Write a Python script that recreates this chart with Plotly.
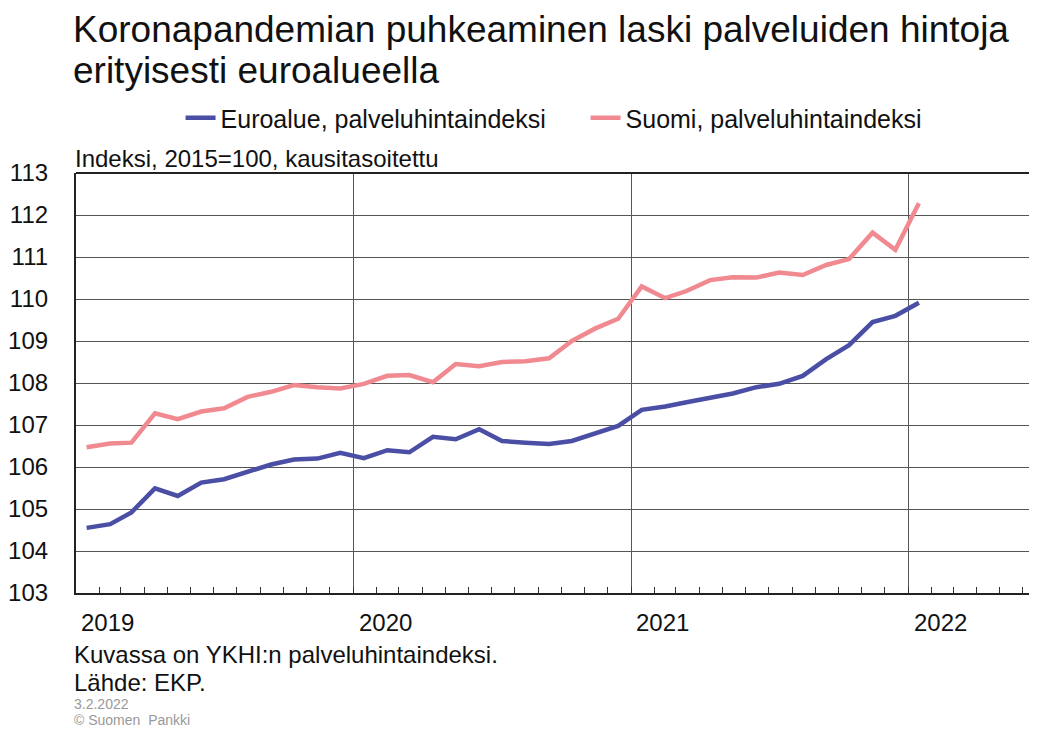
import pandas as pd
import plotly.graph_objects as go

# Monthly observations Jan 2019 .. Jan 2022 (placed mid-month)
months = [d.strftime("%Y-%m-15") for d in pd.date_range("2019-01-01", "2022-01-01", freq="MS")]

euro = [104.55, 104.64, 104.92, 105.49, 105.31, 105.63, 105.71, 105.89, 106.06, 106.18, 106.20, 106.34,
        106.21, 106.40, 106.35, 106.72, 106.66, 106.90, 106.62, 106.58, 106.55, 106.62, 106.80, 106.98,
        107.36, 107.44, 107.54, 107.64, 107.75, 107.90, 107.98, 108.17, 108.57, 108.90, 109.45, 109.60,
        109.91]
suomi = [106.47, 106.56, 106.58, 107.28, 107.14, 107.32, 107.40, 107.67, 107.79, 107.95, 107.90, 107.87,
         107.98, 108.17, 108.19, 108.02, 108.45, 108.40, 108.50, 108.52, 108.59, 109.00, 109.30, 109.53,
         110.30, 110.02, 110.19, 110.45, 110.52, 110.51, 110.63, 110.57, 110.81, 110.95, 111.58, 111.17,
         112.28]

series_names = ["Euroalue, palveluhintaindeksi", "Suomi, palveluhintaindeksi"]
year_labels = ["2019", "2020", "2021", "2022"]
y_ticks = list(range(103, 114))

title_lines = ["Koronapandemian puhkeaminen laski palveluiden hintoja", "erityisesti euroalueella"]
unit_text = "Indeksi, 2015=100, kausitasoitettu"
notes = ["Kuvassa on YKHI:n palveluhintaindeksi.", "Lähde: EKP."]
small_notes = ["3.2.2022", "© Suomen  Pankki"]

FONT = "Liberation Sans, Arial, sans-serif"
BLUE = "#4a4fa5"
PINK = "#f08a90"
TXT = "#111"

PLOT_W = 957  # plot area width in px (figure fits inside the page body)

fig = go.Figure()
fig.add_trace(go.Scatter(x=months, y=euro, mode="lines", name=series_names[0],
                         line=dict(color=BLUE, width=4.5)))
fig.add_trace(go.Scatter(x=months, y=suomi, mode="lines", name=series_names[1],
                         line=dict(color=PINK, width=4.5)))


def px(page_x):
    return (page_x - 72) / PLOT_W


def py(page_y):
    return (593 - page_y) / 420


# page has an 8px body margin: figure is offset by 8px right and down
fig.update_layout(
    width=1021, height=722,
    margin=dict(l=64, r=0, t=165, b=137),
    paper_bgcolor="white", plot_bgcolor="white",
    font=dict(family=FONT, size=24, color=TXT),
    showlegend=True,
    legend=dict(orientation="h", x=px(177), xanchor="left", y=py(118), yanchor="middle",
                font=dict(size=25, color=TXT), itemwidth=30, tracegroupgap=0, entrywidth=360,
                bgcolor="rgba(0,0,0,0)"),
)

fig.update_xaxes(
    type="date", range=["2019-01-01", "2022-06-09"],
    tick0="2019-01-01", dtick="M12",
    showgrid=True, gridcolor="#555", gridwidth=1.3,
    showticklabels=False, ticks="inside", ticklen=6, tickcolor="#333",
    minor=dict(dtick="M1", ticks="inside", ticklen=6, tickcolor="#333", tickwidth=1, showgrid=False),
    showline=True, linecolor="#222", linewidth=2.2, zeroline=False,
)
fig.update_yaxes(
    range=[103, 113], tickvals=y_ticks, ticktext=[str(v) for v in y_ticks],
    showgrid=True, gridcolor="#555", gridwidth=1.3,
    showline=True, linecolor="#222", linewidth=2.2, zeroline=False,
    ticks="", ticklabelstandoff=21, tickfont=dict(size=24, color=TXT),
)

# top border
fig.add_shape(type="line", xref="paper", yref="paper", x0=0, x1=1, y0=1, y1=1,
              line=dict(color="#222", width=2.2))

# year labels
for yl in year_labels:
    fig.add_annotation(x=f"{yl}-02-12", y=py(622), xref="x", yref="paper", text=yl,
                       showarrow=False, xanchor="center", yanchor="middle",
                       font=dict(size=24, color=TXT))

# titles
fig.add_annotation(x=px(67), y=py(29), xref="paper", yref="paper", text=title_lines[0], showarrow=False,
                   xanchor="left", yanchor="middle", font=dict(size=37, color=TXT))
fig.add_annotation(x=px(67), y=py(71), xref="paper", yref="paper", text=title_lines[1], showarrow=False,
                   xanchor="left", yanchor="middle", font=dict(size=37, color=TXT))
fig.add_annotation(x=px(69), y=py(159), xref="paper", yref="paper", text=unit_text, showarrow=False,
                   xanchor="left", yanchor="middle", font=dict(size=24, color=TXT))

# notes
for txt, yy in zip(notes, [654, 682]):
    fig.add_annotation(x=px(68), y=py(yy), xref="paper", yref="paper", text=txt, showarrow=False,
                       xanchor="left", yanchor="middle", font=dict(size=24, color=TXT))
for txt, yy in zip(small_notes, [704, 720]):
    fig.add_annotation(x=px(68), y=py(yy), xref="paper", yref="paper", text=txt, showarrow=False,
                       xanchor="left", yanchor="middle", font=dict(size=14, color="#999"))

fig.write_html("out.html")
